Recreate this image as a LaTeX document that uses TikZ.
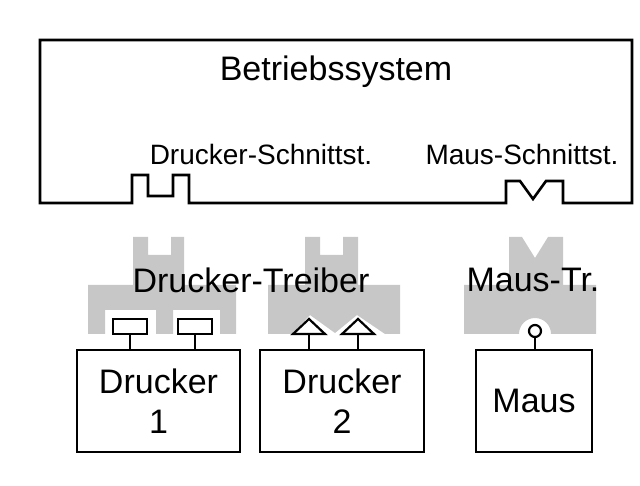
\documentclass[tikz,border=0pt]{standalone}
\usepackage{fontspec}
\setmainfont{Liberation Sans}
\begin{document}
\begin{tikzpicture}[x=1pt,y=-1pt,
  ln/.style={draw=black,line width=2.6pt,line join=miter},
  gr/.style={fill=black!22,draw=none},
  big/.style={font=\fontsize{34}{38}\selectfont,align=center,inner sep=0},
  small/.style={font=\fontsize{28}{32}\selectfont,inner sep=0}]
\useasboundingbox (0,0) rectangle (640,486);
% OS box
\draw[ln] (132,203) -- (40,203) -- (40,40) -- (632,40) -- (632,203) -- (563,203) -- (563,181) -- (546,181) -- (533,199) -- (520,181) -- (506,181) -- (506,203) -- (189,203) -- (189,175) -- (173,175) -- (173,196) -- (148,196) -- (148,175) -- (132,175) -- cycle;
\node[big] (os) at (336,72) {Betriebssystem};
\node[small] (ds) at (261,154) {Drucker-Schnittst.};
\node[small] (ms) at (522,154) {Maus-Schnittst.};
% driver 1
\fill[gr] (133,237) -- (148,237) -- (148,255) -- (171,255) -- (171,237) -- (184,237) -- (184,285) -- (236,285) -- (236,334) -- (220,334) -- (220,310) -- (173,310) -- (173,334) -- (156,334) -- (156,310) -- (105,310) -- (105,334) -- (88,334) -- (88,285) -- (133,285) -- cycle;
% driver 2
\fill[gr] (305,237) -- (320,237) -- (320,255) -- (343,255) -- (343,237) -- (358,237) -- (358,285) -- (400,285) -- (400,334) -- (385,334) -- (357,315) -- (335,333) -- (310,315) -- (292,334) -- (268,334) -- (268,285) -- (305,285) -- cycle;
% mouse driver
\fill[gr] (509,237) -- (522,237) -- (535,258) -- (548,237) -- (563,237) -- (563,285) -- (596,285) -- (596,334) -- (551,334) arc[start angle=0,end angle=-180,radius=16] -- (464,334) -- (464,285) -- (509,285) -- cycle;
\node[big] (dt) at (251,280) {Drucker-Treiber};
\node[big] (mt) at (533,280) {Maus-Tr.};
% devices
\node[ln,big,minimum width=163,minimum height=102] (d1) at (158.5,401) {Drucker\\[2pt]1};
\node[ln,big,minimum width=164,minimum height=102] (d2) at (342,401) {Drucker\\[2pt]2};
\node[ln,big,minimum width=116,minimum height=102] (m) at (534,401) {Maus};
% plugs
\node[ln,line width=2.2pt,minimum width=34,minimum height=15,inner sep=0,anchor=north] (p1) at (130,318) {};
\node[ln,line width=2.2pt,minimum width=34,minimum height=15,inner sep=0,anchor=north] (p2) at (195,318) {};
\draw[ln] (p1.south) -- (p1.south |- d1.north);
\draw[ln] (p2.south) -- (p2.south |- d1.north);
\coordinate (t1) at (309,334);
\coordinate (t2) at (358,334);
\draw[ln,line width=2.2pt] (293,334) -- (309,319) -- (325,334) -- cycle;
\draw[ln,line width=2.2pt] (342,334) -- (358,319) -- (374,334) -- cycle;
\draw[ln] (t1) -- (t1 |- d2.north);
\draw[ln] (t2) -- (t2 |- d2.north);
\node[ln,line width=2.2pt,circle,minimum size=12,inner sep=0] (c) at (535,331) {};
\draw[ln] (c.south) -- (c.south |- m.north);
\end{tikzpicture}
\end{document}
